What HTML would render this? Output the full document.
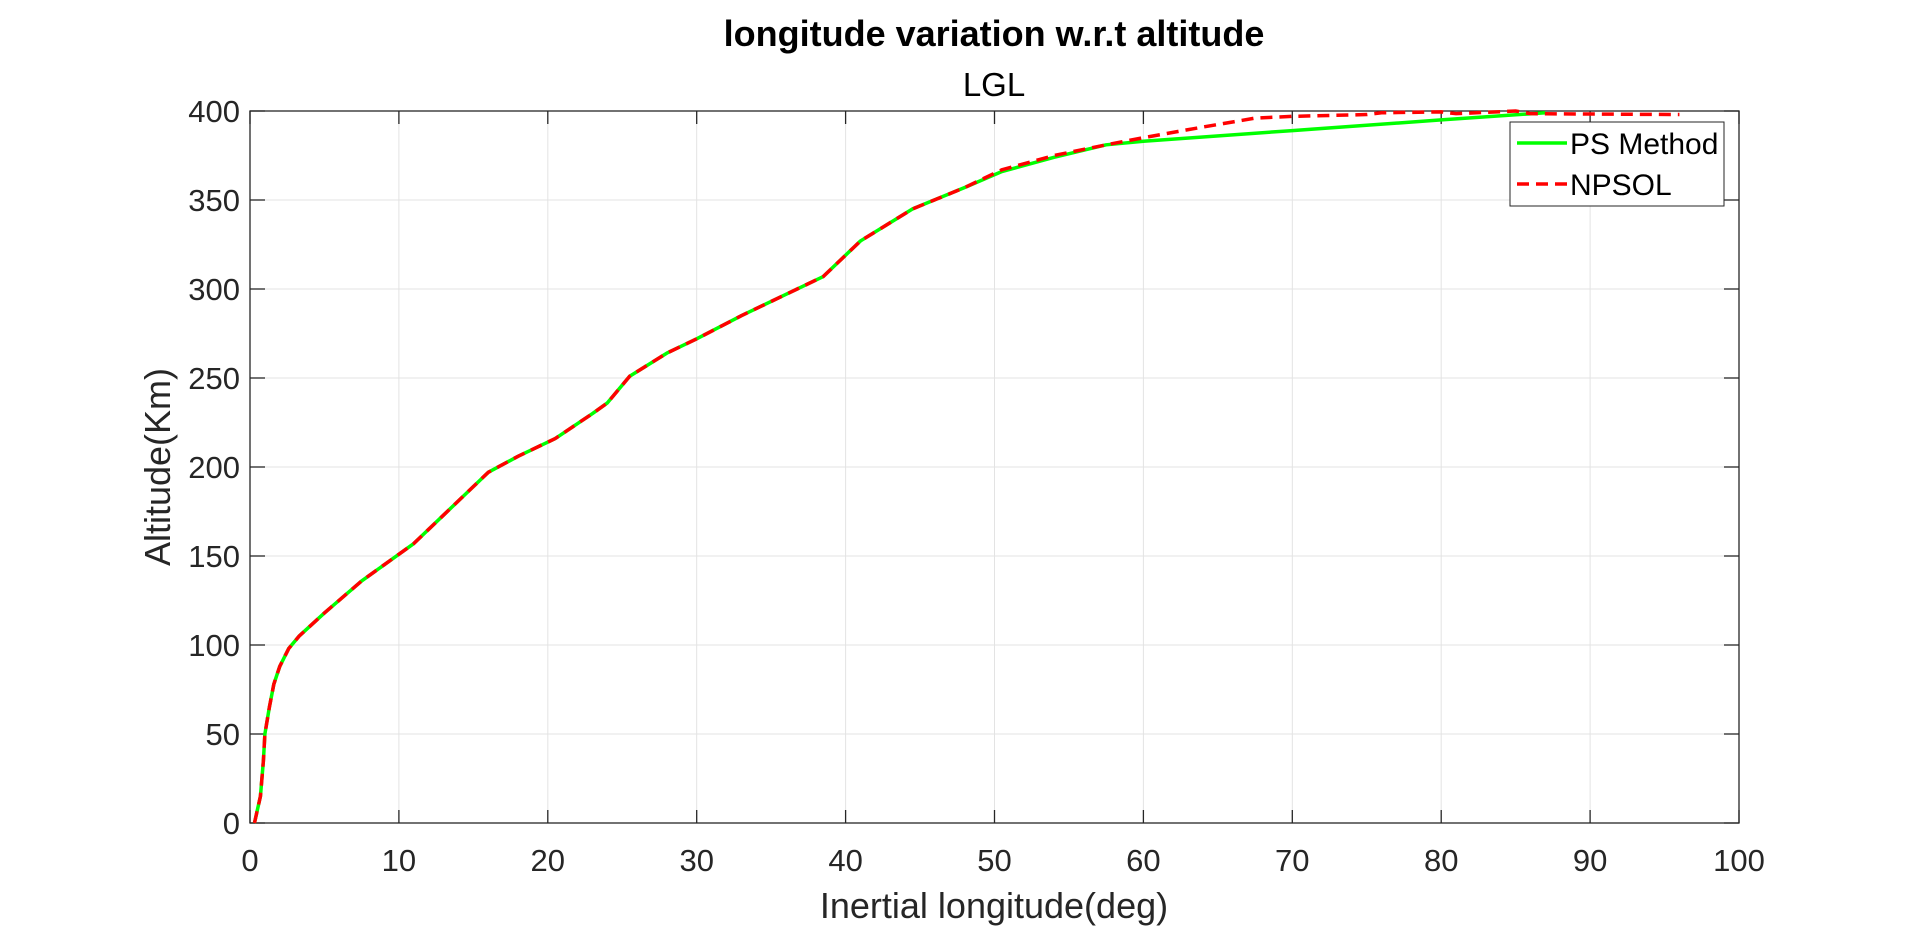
<!DOCTYPE html>
<html><head><meta charset="utf-8"><style>
body{margin:0;background:#fff;width:1920px;height:926px;overflow:hidden}
svg text{font-family:"Liberation Sans",Arial,sans-serif;fill:#262626}
</style></head><body>
<svg id="chart" width="1920" height="926" xmlns="http://www.w3.org/2000/svg">
<text x="994" y="46" text-anchor="middle" font-size="36" font-weight="bold" style="fill:#000">longitude variation w.r.t altitude</text>
<text x="994" y="96" text-anchor="middle" font-size="33" style="fill:#000">LGL</text>
<g id="grid"></g>
<g id="axes"></g>
<g id="series"></g>
<text x="994" y="918" text-anchor="middle" font-size="36">Inertial longitude(deg)</text>
<text transform="translate(170,467) rotate(-90)" text-anchor="middle" font-size="36">Altitude(Km)</text>
<g>
<rect x="1510" y="122" width="214" height="84" fill="#fff" stroke="#262626" stroke-width="1"/>
<line x1="1517" y1="143" x2="1567" y2="143" stroke="#00ff00" stroke-width="3.5"/>
<text x="1570" y="154" font-size="30" style="fill:#000">PS Method</text>
<line x1="1517" y1="184" x2="1567" y2="184" stroke="#ff0000" stroke-width="3.5" stroke-dasharray="12,7"/>
<text x="1570" y="195" font-size="30" style="fill:#000">NPSOL</text>
</g>
</svg>
<script>
const xTicks=[0,10,20,30,40,50,60,70,80,90,100];
const yTicks=[0,50,100,150,200,250,300,350,400];
const psX=[0.3,0.7,0.9,1.0,1.3,1.6,2.0,2.6,3.3,5,7.5,9,11,13,16,18,20.5,23,24,25.5,28,30,33,36,38.5,41,44.5,48,50.5,54,57.5,60,70,80,87];
const psY=[0,15,35,50,65,78,88,98,105,118,136,145,157,173,197,206,216,230,236,251,264,272,285,297,307,327,345,357,366,374,381,383,389,395,399];
const npX=[0.3,0.7,0.9,1.0,1.3,1.6,2.0,2.6,3.3,5,7.5,9,11,13,16,18,20.5,23,24,25.5,28,30,33,36,38.5,41,44.5,48,50.5,54,57.5,60,64,67.5,70,75,76,80,81,85,86,96];
const npY=[0,15,35,50,65,78,88,98,105,118,136,145,157,173,197,206,216,230,236,251,264,272,285,297,307,327,345,357,367,375,381,385,391,396,397,398,399,399.5,398.5,400,398.5,398];
const L=250,R=1739,T=111,B=823;
const sx=v=>L+(v-0)/(100-0)*(R-L);
const sy=v=>B-(v-0)/(400-0)*(B-T);
const NS='http://www.w3.org/2000/svg';
function mk(tag,attrs,parent){const e=document.createElementNS(NS,tag);for(const k in attrs)e.setAttribute(k,attrs[k]);parent.appendChild(e);return e;}
const grid=document.getElementById('grid'),axes=document.getElementById('axes'),series=document.getElementById('series');
xTicks.forEach(t=>{
 const x=sx(t);
 const g=mk('line',{x1:x,y1:T,x2:x,y2:B,stroke:'#e3e3e3','stroke-width':1},grid);
 
 
 mk('line',{x1:x,y1:B,x2:x,y2:B-13,stroke:'#262626','stroke-width':1.3},axes);
 mk('line',{x1:x,y1:T,x2:x,y2:T+13,stroke:'#262626','stroke-width':1.3},axes);
 const tx=mk('text',{x:x,y:871,'text-anchor':'middle','font-size':31},axes);
 tx.textContent=t;
 
 
});
yTicks.forEach(t=>{
 const y=sy(t);
 const g=mk('line',{x1:L,y1:y,x2:R,y2:y,stroke:'#e3e3e3','stroke-width':1},grid);
 
 
 mk('line',{x1:L,y1:y,x2:L+15,y2:y,stroke:'#262626','stroke-width':1.3},axes);
 mk('line',{x1:R,y1:y,x2:R-15,y2:y,stroke:'#262626','stroke-width':1.3},axes);
 const tx=mk('text',{x:240,y:y+11,'text-anchor':'end','font-size':31},axes);
 tx.textContent=t;
 
 
});
mk('rect',{x:L,y:T,width:R-L,height:B-T,fill:'none',stroke:'#262626','stroke-width':1.3},axes);
const ps=mk('polyline',{points:psX.map((v,i)=>sx(v)+','+sy(psY[i])).join(' '),fill:'none',stroke:'#00ff00','stroke-width':3.5,'stroke-linejoin':'round'},series);


const np=mk('polyline',{points:npX.map((v,i)=>sx(v)+','+sy(npY[i])).join(' '),fill:'none',stroke:'#ff0000','stroke-width':3.5,'stroke-dasharray':'12,7'},series);


</script>
</body></html>
